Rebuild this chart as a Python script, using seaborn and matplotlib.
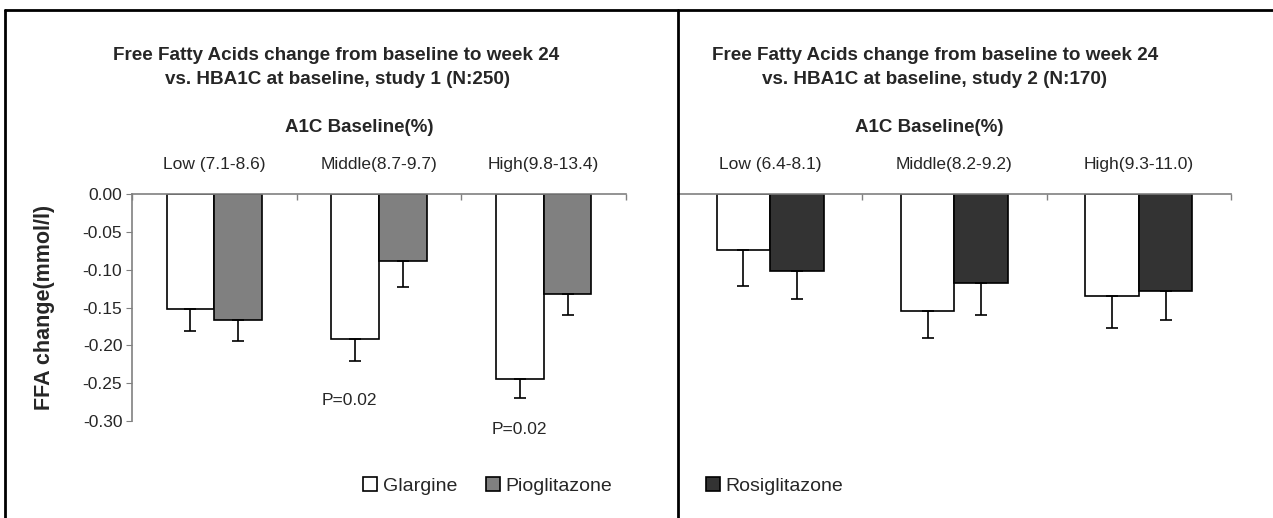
import numpy as np
import pandas as pd
import matplotlib
matplotlib.use("Agg")
import matplotlib.pyplot as plt
import matplotlib.ticker as mticker
from matplotlib.lines import Line2D
import seaborn as sns

# ---------------- data ----------------
groups_1 = ["Low (7.1-8.6)", "Middle(8.7-9.7)", "High(9.8-13.4)"]
glargine_1 = [-0.152, -0.192, -0.245]
pioglitazone_1 = [-0.167, -0.089, -0.132]
glargine_1_err = [0.029, 0.029, 0.025]
pioglitazone_1_err = [0.027, 0.034, 0.028]

groups_2 = ["Low (6.4-8.1)", "Middle(8.2-9.2)", "High(9.3-11.0)"]
glargine_2 = [-0.074, -0.155, -0.135]
rosiglitazone_2 = [-0.101, -0.117, -0.128]
glargine_2_err = [0.048, 0.036, 0.042]
rosiglitazone_2_err = [0.038, 0.043, 0.038]

y_ticks = [0.00, -0.05, -0.10, -0.15, -0.20, -0.25, -0.30]
p_labels = ["P=0.02", "P=0.02"]

# ---------------- style ----------------
sns.set_style("white")
plt.rcParams["font.family"] = ["Liberation Sans", "DejaVu Sans"]
plt.rcParams["axes.unicode_minus"] = False

W, H = 1273, 518
fig = plt.figure(figsize=(W / 100, H / 100), dpi=100)


def fx(px):
    return px / W


def fy(py):
    return 1 - py / H


def panel(rect, groups, drug, vals_g, vals_d, err_g, err_d, colour, show_y):
    ax = fig.add_axes(rect)
    df = pd.DataFrame({
        "group": groups * 2,
        "drug": ["Glargine"] * 3 + [drug] * 3,
        "value": vals_g + vals_d,
    })
    sns.barplot(data=df, x="group", y="value", hue="drug", order=groups,
                hue_order=["Glargine", drug],
                palette={"Glargine": "white", drug: colour},
                edgecolor="black", linewidth=1.2, width=0.58,
                legend=False, ax=ax, saturation=1)
    # lower error bars only
    for cont, vals, errs in zip(ax.containers, [vals_g, vals_d], [err_g, err_d]):
        xs = [p.get_x() + p.get_width() / 2 for p in cont.patches]
        ax.errorbar(xs, vals, yerr=[errs, [0] * 3], fmt="none", ecolor="black",
                    elinewidth=1.2, capsize=4, capthick=1.2, zorder=3)

    ax.set_xlim(-0.5, 2.5)
    ax.set_ylim(-0.30, 0.0)
    ax.set_xlabel("")
    ax.set_ylabel("")
    ax.xaxis.set_ticks_position("top")
    ax.set_xticks([-0.5, 0.5, 1.5, 2.5])
    ax.set_xticklabels([])
    ax.set_xticks([0, 1, 2], minor=True)
    ax.set_xticklabels(groups, minor=True, fontsize=12.5)
    ax.tick_params(axis="x", which="major", direction="in", length=4,
                   color="#808080", width=1, top=True, bottom=False)
    ax.tick_params(axis="x", which="minor", length=0, pad=16, top=True,
                   bottom=False, labeltop=True, labelbottom=False)
    for s in ["bottom", "right"]:
        ax.spines[s].set_visible(False)
    ax.spines["top"].set_color("#808080")
    ax.spines["top"].set_linewidth(1.2)
    if show_y:
        ax.spines["left"].set_color("#808080")
        ax.spines["left"].set_linewidth(1.2)
        ax.set_yticks(y_ticks)
        ax.yaxis.set_major_formatter(mticker.FormatStrFormatter("%.2f"))
        ax.tick_params(axis="y", direction="out", length=4, color="#808080",
                       labelsize=12.5, left=True, pad=3)
        ax.set_ylabel("FFA change(mmol/l)", fontsize=15.5, fontweight="bold")
        ax.yaxis.set_label_coords((55 - 132) / 494, 0.5)
    else:
        ax.spines["left"].set_visible(False)
        ax.set_yticks([])
    ax.patch.set_alpha(0)
    return ax


ax1 = panel([fx(132), fy(420.7), fx(626) - fx(132), fy(194.3) - fy(420.7)],
            groups_1, "Pioglitazone", glargine_1, pioglitazone_1,
            glargine_1_err, pioglitazone_1_err, "#808080", True)
ax2 = panel([fx(678), fy(420.7), fx(1231) - fx(678), fy(194.3) - fy(420.7)],
            groups_2, "Rosiglitazone", glargine_2, rosiglitazone_2,
            glargine_2_err, rosiglitazone_2_err, "#333333", False)

# P-value notes under the glargine bars (middle and high groups)
g_bars = ax1.containers[0].patches
for bar, lab, yv, dx in zip([g_bars[1], g_bars[2]], p_labels,
                            [-0.2726, -0.311], [-0.036, 0.0]):
    ax1.text(bar.get_x() + bar.get_width() / 2 + dx, yv, lab,
             ha="center", va="center", fontsize=12.5, clip_on=False)

# legends
leg_kw = dict(frameon=False, loc="center", bbox_transform=fig.transFigure,
              fontsize=14, handlelength=0.7, handleheight=0.7,
              handletextpad=0.3)
h1 = [ax1.containers[0].patches[0], ax1.containers[1].patches[0]]
ax1.legend(h1, ["Glargine", "Pioglitazone"], ncol=2, columnspacing=1.5,
           bbox_to_anchor=(fx(488), fy(486)), **leg_kw)
ax2.legend([ax2.containers[1].patches[0]], ["Rosiglitazone"],
           bbox_to_anchor=(fx(775), fy(486)), **leg_kw)

# titles
title_kw = dict(ha="center", va="center", fontsize=13.6, fontweight="bold")
fig.text(fx(336), fy(55), "Free Fatty Acids change from baseline to week 24", **title_kw)
fig.text(fx(338), fy(80), "vs. HBA1C at baseline, study 1 (N:250)", **title_kw)
fig.text(fx(359), fy(127), "A1C Baseline(%)", **dict(title_kw, fontsize=13.5))
fig.text(fx(935), fy(55), "Free Fatty Acids change from baseline to week 24", **title_kw)
fig.text(fx(935), fy(80), "vs. HBA1C at baseline, study 2 (N:170)", **title_kw)
fig.text(fx(929), fy(127), "A1C Baseline(%)", **dict(title_kw, fontsize=13.5))

# frame lines around the two panels
for xs, ys in [([5, W], [10, 10]), ([5, 5], [10, H]), ([678, 678], [10, H])]:
    fig.add_artist(Line2D([fx(x) for x in xs], [fy(y) for y in ys],
                          color="black", linewidth=2))

fig.savefig("out.png", dpi=100)
